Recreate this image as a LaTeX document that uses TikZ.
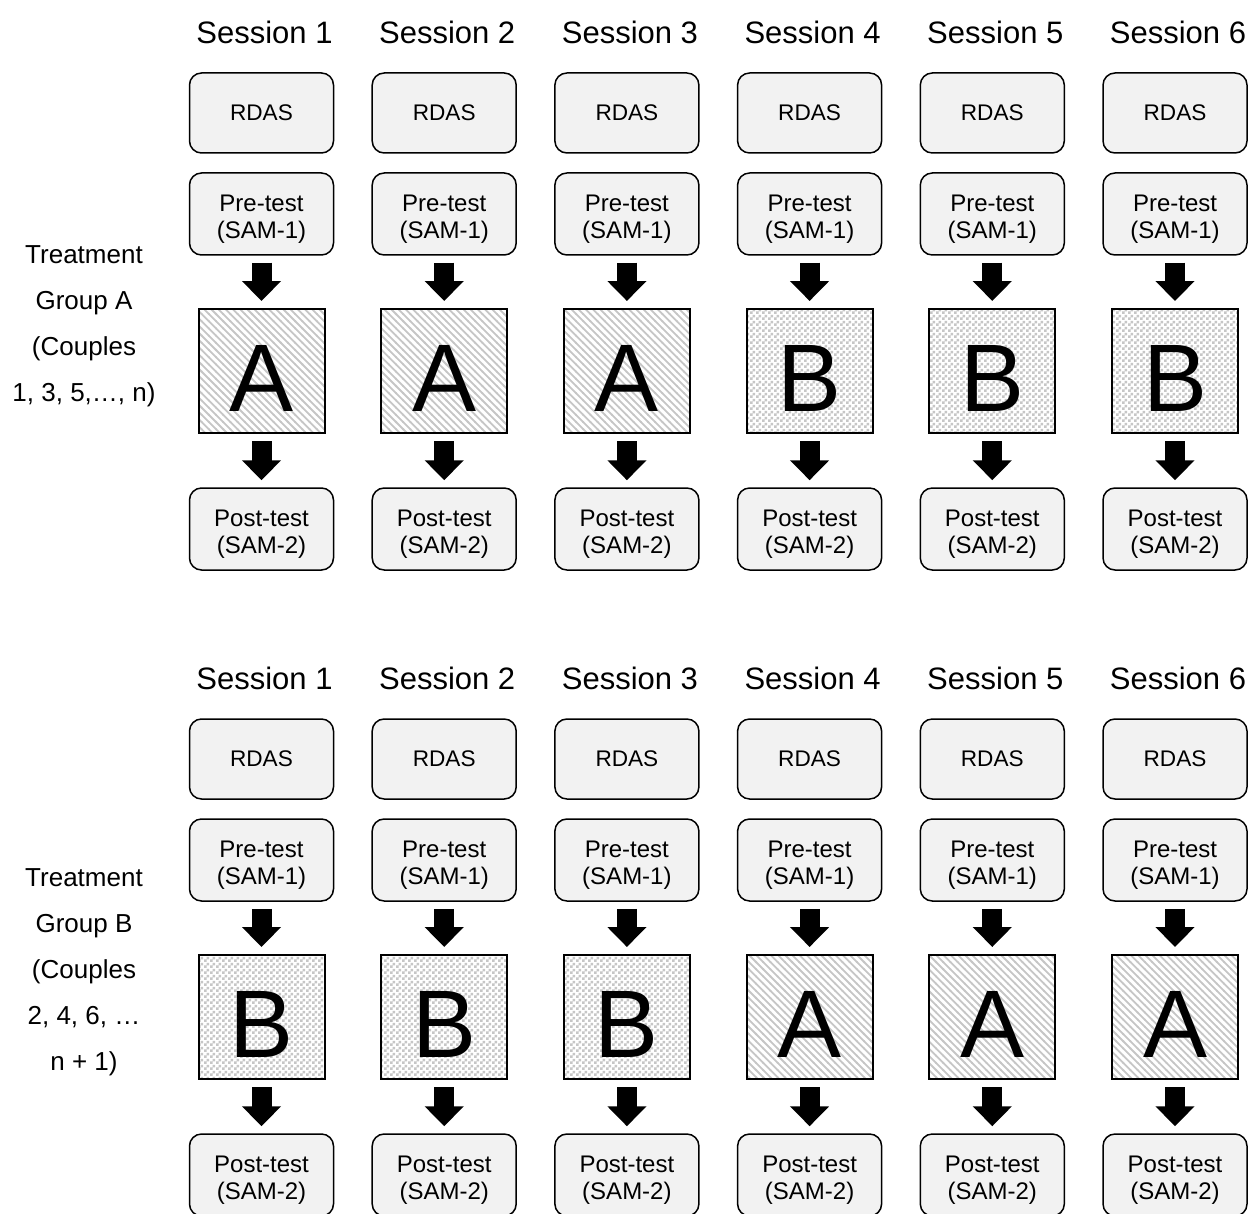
\documentclass[tikz,border=0pt]{standalone}
\usepackage{fontspec}
\setmainfont{Liberation Sans}
\usetikzlibrary{arrows.meta,patterns,calc}
\definecolor{boxfill}{HTML}{F2F2F2}
\pgfdeclarepatternformonly{mydiag}{\pgfqpoint{-1pt}{-1pt}}{\pgfqpoint{4.6pt}{4.6pt}}{\pgfqpoint{3.6pt}{3.6pt}}%
{\pgfsetlinewidth{0.9pt}\pgfpathmoveto{\pgfqpoint{-0.2pt}{3.8pt}}\pgfpathlineto{\pgfqpoint{3.8pt}{-0.2pt}}\pgfusepath{stroke}}
\pgfdeclarepatternformonly{finechecker}{\pgfpointorigin}{\pgfqpoint{3pt}{3pt}}{\pgfqpoint{3pt}{3pt}}%
{\pgfpathrectangle{\pgfpointorigin}{\pgfqpoint{1.5pt}{1.5pt}}\pgfpathrectangle{\pgfqpoint{1.5pt}{1.5pt}}{\pgfqpoint{1.5pt}{1.5pt}}\pgfusepath{fill}}
\tikzset{
  rbox/.style={draw=black, line width=0.75pt, fill=boxfill, rounded corners=6pt,
    minimum width=72pt, minimum height=41pt, inner sep=0pt},
  rdasbox/.style={rbox, minimum height=40pt, align=center, font=\fontsize{11.3}{13.5}\selectfont},
  boxtext/.style={align=center, inner sep=0pt, font=\fontsize{12}{13.5}\selectfont},
  sqbox/.style={draw=black, line width=1pt, minimum width=63pt, minimum height=62pt, inner sep=0pt},
  letter/.style={inner sep=0pt, font=\fontsize{48}{48}\selectfont},
  treatA/.style={sqbox, preaction={fill=white}, pattern=mydiag, pattern color=gray!45},
  treatB/.style={sqbox, preaction={fill=white}, pattern=finechecker, pattern color=gray!45},
  blockarrow/.style={line width=10pt, -{Triangle[length=10pt,width=19pt]},
    shorten <=3.5pt, shorten >=3.5pt},
  sesslabel/.style={font=\fontsize{15.5}{18}\selectfont, inner sep=0pt},
  grouplabel/.style={font=\fontsize{13}{23}\selectfont, align=center, inner sep=0pt}
}
\begin{document}
\begin{tikzpicture}[x=0.5pt,y=-0.5pt]
\useasboundingbox (0,0) rectangle (1252,1214);
% group labels
\node[grouplabel] (gA) at (84,326) {Treatment\\Group A\\(Couples\\1, 3, 5,…, n)};
\node[grouplabel] (gB) at (84,972) {Treatment\\Group B\\(Couples\\2, 4, 6, …\\n + 1)};
\foreach \g/\off in {a/0,b/646}{
  \foreach \i in {1,...,6}{
    \pgfmathsetmacro{\cx}{261.5+182.7*(\i-1)}
    \node[sesslabel] (s\g\i) at (\cx+3,32+\off) {Session \i};
    \node[rdasbox] (r\g\i) at (\cx,113+\off) {RDAS};
    \node[rbox] (p\g\i) at (\cx,214+\off) {};
    \node[boxtext] (pt\g\i) at ($(p\g\i.center)+(0,5)$) {Pre-test\\(SAM-1)};
    \node[rbox] (q\g\i) at (\cx,529+\off) {};
    \node[boxtext] (qt\g\i) at ($(q\g\i.center)+(0,5)$) {Post-test\\(SAM-2)};
  }
}
% treatment squares
\foreach \i in {1,2,3}{
  \pgfmathsetmacro{\cx}{261.5+182.7*(\i-1)}
  \node[treatA] (ta\i) at (\cx,371) {};
  \node[letter] (la\i) at ($(ta\i.center)+(0,7)$) {A};
  \node[treatB] (tb\i) at (\cx,1017) {};
  \node[letter] (lb\i) at ($(tb\i.center)+(0,7)$) {B};
}
\foreach \i in {4,5,6}{
  \pgfmathsetmacro{\cx}{261.5+182.7*(\i-1)}
  \node[treatB] (ta\i) at (\cx,371) {};
  \node[letter] (la\i) at ($(ta\i.center)+(0,7)$) {B};
  \node[treatA] (tb\i) at (\cx,1017) {};
  \node[letter] (lb\i) at ($(tb\i.center)+(0,7)$) {A};
}
% arrows
\foreach \g in {a,b}{
  \foreach \i in {1,...,6}{
    \draw[blockarrow] (p\g\i.south) -- (t\g\i.north);
    \draw[blockarrow] (t\g\i.south) -- (q\g\i.north);
  }
}
\end{tikzpicture}
\end{document}
